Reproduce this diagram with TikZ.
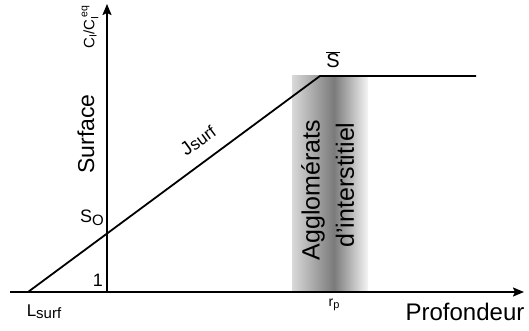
\documentclass[tikz,border=0pt]{standalone}
\usepackage{fontspec}
\setmainfont{Liberation Sans}
\usetikzlibrary{arrows.meta}
\begin{document}
\begin{tikzpicture}[x=1pt,y=-1pt,
  axis/.style={line width=1.8pt,-{Stealth[length=11pt,width=9pt,inset=2pt]}},
  curve/.style={line width=1.8pt},
  lbl/.style={inner sep=0pt}]
\useasboundingbox (0,0) rectangle (529,331);
% gray band
\shade[left color=black!15,right color=black!52] (292,76) rectangle (334,291);
\shade[left color=black!52,right color=black!4] (334,76) rectangle (368,291);
% coordinates
\coordinate (O) at (107,292);
\coordinate (yend) at (107,4);
\coordinate (xstart) at (10,292);
\coordinate (xend) at (524,292);
\coordinate (L) at (28,292);
\coordinate (K) at (320,76);
\coordinate (E) at (476,76);
% axes
\draw[axis] (O) -- (yend);
\draw[axis] (xstart) -- (xend);
% profile
\draw[curve] (L) -- (K) -- (E);
% labels
\node[lbl,rotate=90,font=\fontsize{15}{15}\selectfont] (cl) at (90,27) {C$_{\mathrm{I}}$/C$_{\mathrm{I}}^{\,\mathrm{eq}}$};
\node[lbl,rotate=90,font=\fontsize{23}{23}\selectfont] (surf) at (86,134) {Surface};
\node[lbl,font=\fontsize{20}{20}\selectfont] (sbar) at (333,60) {$\overline{\mbox{S}}$};
\node[lbl,font=\fontsize{18}{18}\selectfont] (s0) at (92,218) {S\raisebox{-3pt}{\fontsize{15}{15}\selectfont O}};
\node[lbl,font=\fontsize{18}{18}\selectfont] (one) at (98,280) {1};
\node[lbl,font=\fontsize{17}{17}\selectfont] (lsurf) at (44,312) {L\raisebox{-2pt}{\fontsize{15}{15}\selectfont surf}};
\node[lbl,font=\fontsize{14}{14}\selectfont] (rp) at (334,305) {r\raisebox{-2pt}{\fontsize{11}{11}\selectfont p}};
\node[lbl,font=\fontsize{24}{24}\selectfont] (prof) at (465,312) {Profondeur};
\node[lbl,rotate=36.4,font=\fontsize{19}{19}\selectfont] (jsurf) at (198,140) {J\raisebox{-1pt}{\fontsize{17}{17}\selectfont surf}};
\node[lbl,rotate=90,font=\fontsize{25}{25}\selectfont] (agg) at (313,190) {Agglomérats};
\node[lbl,rotate=90,font=\fontsize{25}{25}\selectfont] (int) at (345,185) {d'interstitiel};
\end{tikzpicture}
\end{document}
